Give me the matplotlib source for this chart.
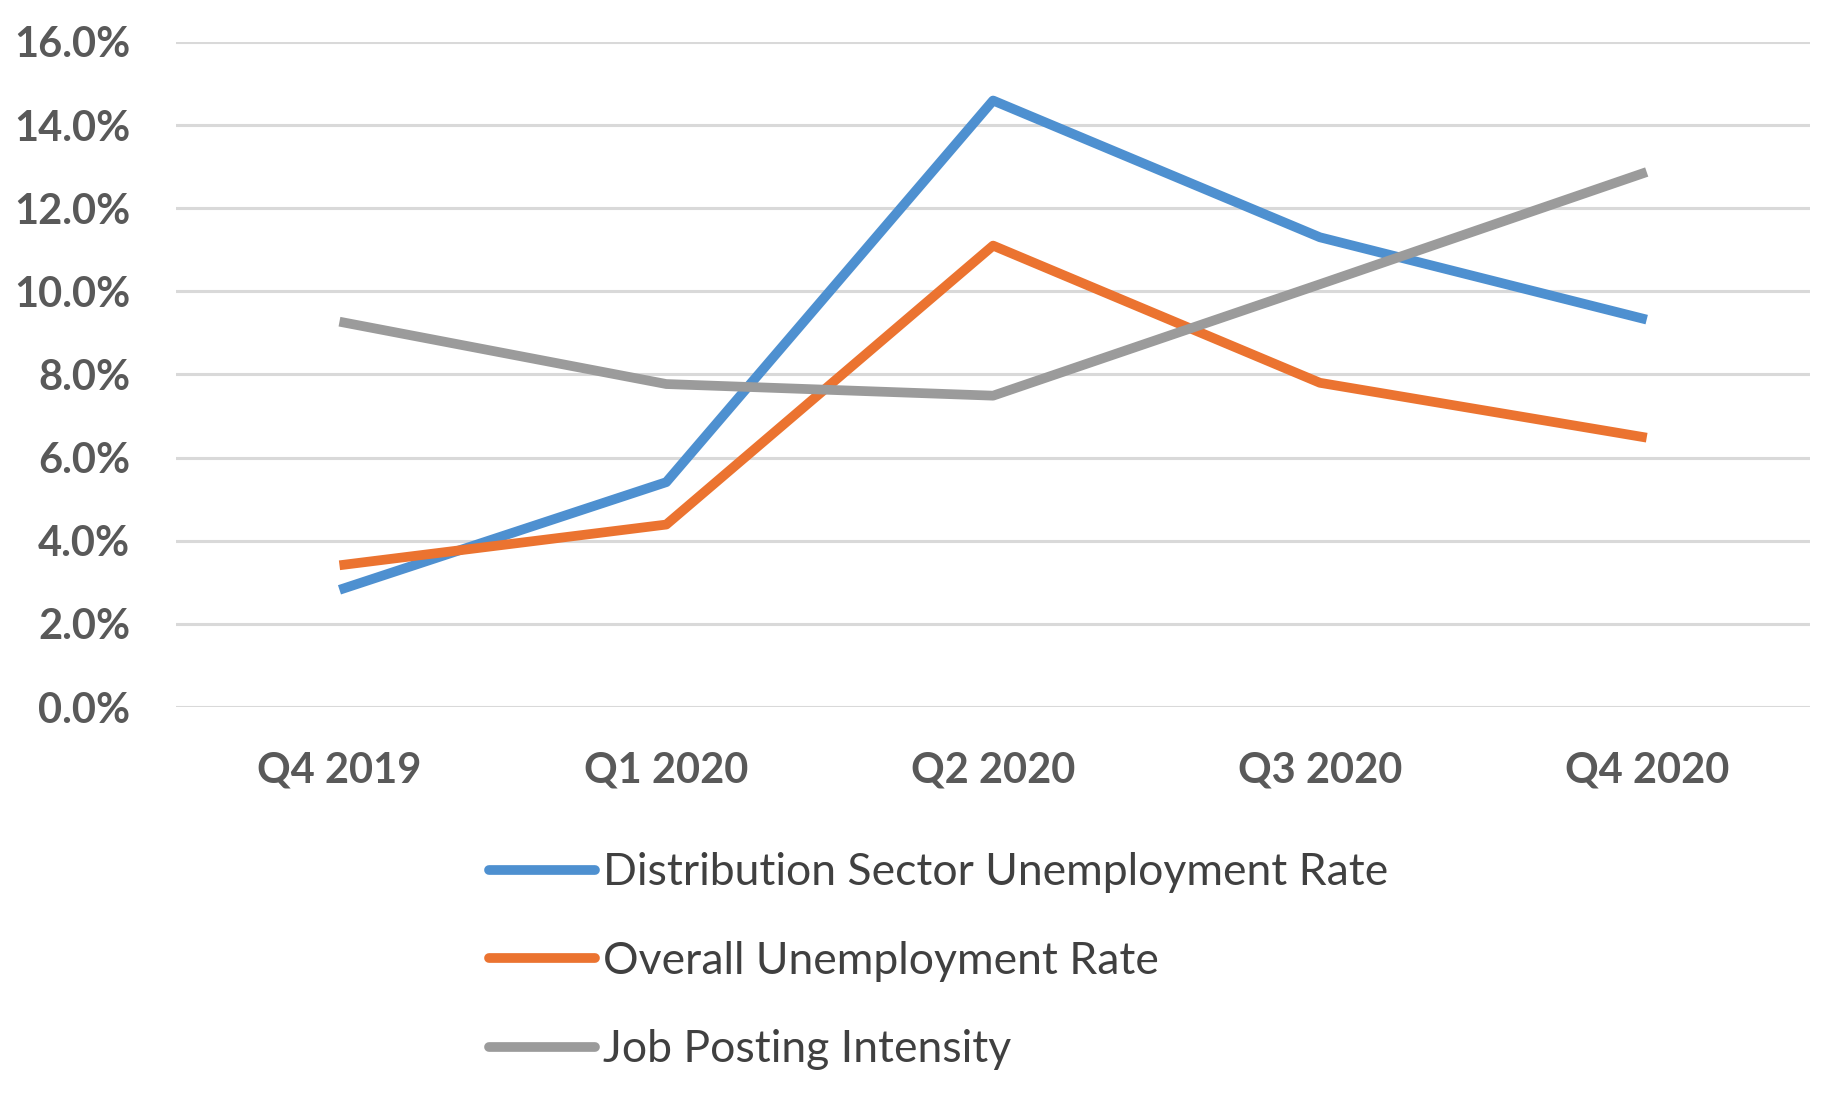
import matplotlib
matplotlib.use("Agg")
import matplotlib.pyplot as plt
from matplotlib.ticker import FuncFormatter

quarters = ["Q4 2019", "Q1 2020", "Q2 2020", "Q3 2020", "Q4 2020"]
distribution_rate = [2.82, 5.41, 14.59, 11.30, 9.32]
overall_rate = [3.41, 4.39, 11.10, 7.80, 6.48]
job_posting = [9.27, 7.77, 7.49, 10.17, 12.87]

series = [
    ("Distribution Sector Unemployment Rate", distribution_rate, "#4e90d0"),
    ("Overall Unemployment Rate", overall_rate, "#eb7330"),
    ("Job Posting Intensity", job_posting, "#9b9b9b"),
]

plt.rcParams["font.family"] = ["Lato", "DejaVu Sans"]

fig = plt.figure(figsize=(18.36, 10.94), dpi=100)
ax = fig.add_axes([0.0959, 0.3537, 0.890, 0.608])

x = list(range(len(quarters)))
for label, vals, color in series:
    ax.plot(x, vals, color=color, linewidth=7, label=label,
            solid_capstyle="butt", solid_joinstyle="round", zorder=3)

ax.set_xlim(-0.5, len(quarters) - 0.5)
ax.set_ylim(0, 16)
ax.set_yticks(range(0, 17, 2))
ax.yaxis.set_major_formatter(FuncFormatter(lambda v, _: f"{v:.1f}%"))
ax.set_xticks(x)
ax.set_xticklabels(quarters)

ax.grid(axis="y", color="#d9d9d9", linewidth=2.2, zorder=0)
for s in ax.spines.values():
    s.set_visible(False)
ax.tick_params(axis="both", length=0, labelsize=30, labelcolor="#595959")
ax.tick_params(axis="y", pad=33)
ax.tick_params(axis="x", pad=32)
for t in ax.get_xticklabels() + ax.get_yticklabels():
    t.set_fontweight("bold")

leg = fig.legend(loc="upper left", bbox_to_anchor=(0.2663, 0.221),
                 frameon=False, fontsize=32, handlelength=2.39,
                 handletextpad=0.18, labelspacing=1.07, borderpad=0,
                 borderaxespad=0)
for t in leg.get_texts():
    t.set_color("#404040")
for h in leg.get_lines():
    h.set_linewidth(7)
    h.set_solid_capstyle("round")

fig.savefig("out.png", dpi=100)
